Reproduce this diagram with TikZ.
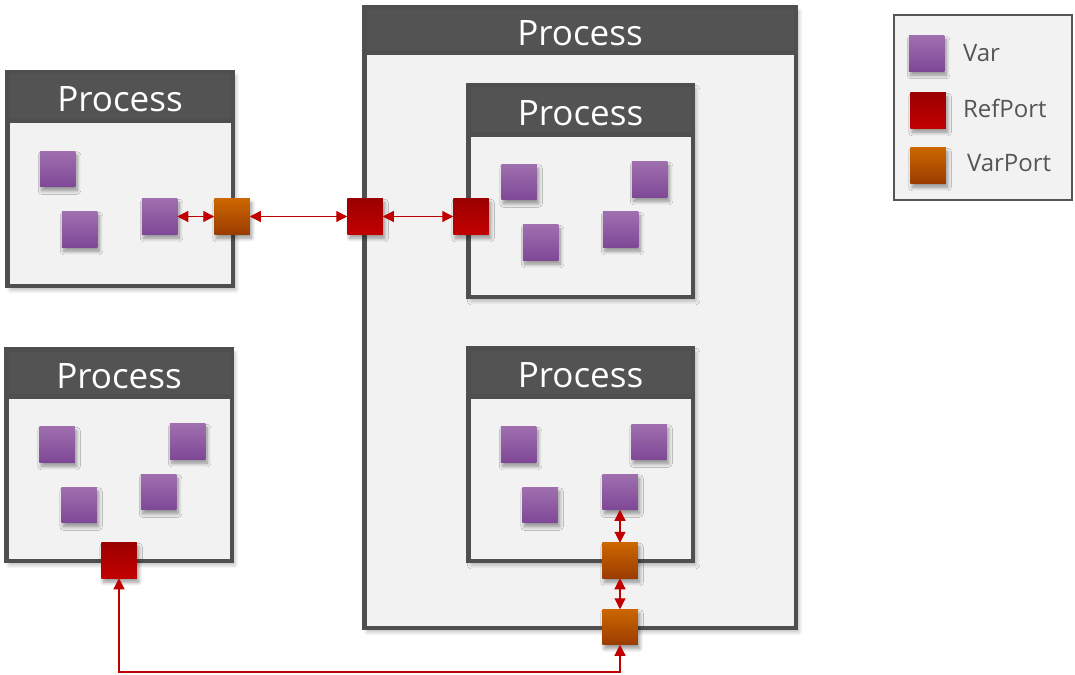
\documentclass[tikz,border=0pt]{standalone}
\usepackage{fontspec}
\setmainfont{Open Sans}
\usetikzlibrary{arrows.meta,shadows.blur}
\definecolor{boxgray}{HTML}{4F4F4F}
\definecolor{headgray}{HTML}{535353}
\definecolor{boxfill}{HTML}{F2F2F2}
\definecolor{varTop}{HTML}{9F6FAE}
\definecolor{varBot}{HTML}{7F4897}
\definecolor{refTop}{HTML}{9C0000}
\definecolor{refBot}{HTML}{C20000}
\definecolor{vpTop}{HTML}{CC6600}
\definecolor{vpBot}{HTML}{9A3C00}
\definecolor{linkred}{HTML}{C00000}
\definecolor{legtext}{HTML}{555555}
\begin{document}
\begin{tikzpicture}[x=1pt, y=-1pt,
    every node/.style = {inner sep=0, outer sep=0},
    proc/.style = {rectangle, draw=boxgray, line width=4.5pt, fill=boxfill,
      blur shadow={shadow xshift=3pt, shadow yshift=-4pt, shadow opacity=30,
        shadow blur radius=4pt, shadow blur steps=8}},
    head/.style = {rectangle, draw=boxgray, line width=4.5pt, fill=headgray,
      text=white, font=\fontsize{35}{40}\selectfont, text height=31pt, text depth=0pt},
    sq/.style = {rectangle, minimum size=35.5pt,
      blur shadow={shadow xshift=2pt, shadow yshift=-4pt, shadow opacity=40,
        shadow blur radius=3.5pt, shadow blur steps=8}},
    var/.style = {sq, top color=varTop, bottom color=varBot},
    refport/.style = {sq, top color=refTop, bottom color=refBot},
    varport/.style = {sq, top color=vpTop, bottom color=vpBot},
    link/.style = {draw=linkred, line width=1.2pt,
      {Triangle[length=11pt, width=11pt]}-{Triangle[length=11pt, width=11pt]}},
    legend/.style = {anchor=west, text=legtext, font=\fontsize{24}{28}\selectfont}]
    \useasboundingbox (0, 0) rectangle (1075, 674);

    % processes
    \node (pbig) at (580, 317.5) [proc, minimum width=431.5pt, minimum height=620.5pt] {};
    \node (pbigh) at (pbig.north) [head, anchor=north, minimum width=431.5pt, minimum height=46pt] {Process};
    \node (pA) at (120, 179) [proc, minimum width=225.5pt, minimum height=213.5pt] {};
    \node (pAh) at (pA.north) [head, anchor=north, minimum width=225.5pt, minimum height=48pt] {Process};
    \node (pB) at (119, 455) [proc, minimum width=225.5pt, minimum height=211.5pt] {};
    \node (pBh) at (pB.north) [head, anchor=north, minimum width=225.5pt, minimum height=47pt] {Process};
    \node (pC) at (580.5, 191) [proc, minimum width=224.5pt, minimum height=211.5pt] {};
    \node (pCh) at (pC.north) [head, anchor=north, minimum width=224.5pt, minimum height=49pt] {Process};
    \node (pD) at (580.5, 454.5) [proc, minimum width=224.5pt, minimum height=212.5pt] {};
    \node (pDh) at (pD.north) [head, anchor=north, minimum width=224.5pt, minimum height=48pt] {Process};

    % vars
    \node (vA1) at (57.5, 169) [var] {};
    \node (vA2) at (79.5, 229.5) [var] {};
    \node (vA3) at (159.5, 216.5) [var] {};
    \node (vB1) at (57, 444.5) [var] {};
    \node (vB2) at (187.5, 441.5) [var] {};
    \node (vB3) at (79, 505) [var] {};
    \node (vB4) at (158.5, 492) [var] {};
    \node (vC1) at (519, 182) [var] {};
    \node (vC2) at (649.5, 179.5) [var] {};
    \node (vC3) at (540.5, 242.5) [var] {};
    \node (vC4) at (620.5, 229.5) [var] {};
    \node (vD1) at (518.5, 444.5) [var] {};
    \node (vD2) at (649, 442) [var] {};
    \node (vD3) at (540, 505) [var] {};
    \node (vD4) at (620, 492) [var] {};

    % ports
    \node (vpA) at (232, 216.5) [varport] {};
    \node (rpBig) at (365, 216.5) [refport] {};
    \node (rpC) at (471, 216.5) [refport] {};
    \node (rpB) at (119, 560.5) [refport] {};
    \node (vpD) at (620, 560.5) [varport] {};
    \node (vpBig) at (620, 627) [varport] {};

    % connections
    \draw [link] (vA3) -- (vpA);
    \draw [link] (vpA) -- (rpBig);
    \draw [link] (rpBig) -- (rpC);
    \draw [link] (vD4) -- (vpD);
    \draw [link] (vpD) -- (vpBig);
    \coordinate (low) at (370, 672);
    \draw [link] (rpB) |- (low) -| (vpBig);

    % legend
    \node (leg) at (983, 107.5) [rectangle, draw=legtext, line width=2pt, fill=boxfill,
      minimum width=178pt, minimum height=185pt] {};
    \node (kVar) at (926.5, 53.5) [var] {};
    \node (kRef) at (928, 110.5) [refport] {};
    \node (kVp) at (928, 165.5) [varport] {};
    \node (tVar) at (963, 53) [legend] {Var};
    \node (tRef) at (963, 108.5) [legend] {RefPort};
    \node (tVp) at (967, 163.5) [legend] {VarPort};
\end{tikzpicture}
\end{document}
